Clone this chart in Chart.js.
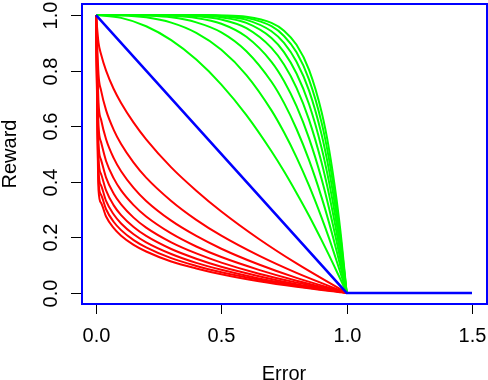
<!DOCTYPE html>
<html>
<head>
<meta charset="utf-8">
<script src="https://cdn.jsdelivr.net/npm/chart.js@4.4.0/dist/chart.umd.min.js"></script>
<style>
  html, body { margin: 0; padding: 0; background: #fff; }
  canvas { display: block; }
</style>
</head>
<body>
<canvas id="chart" width="488" height="380"></canvas>
<script>
// Reward vs error curves
const redX = [0, 0.01, 0.02, 0.04, 0.07, 0.1, 0.15, 0.2, 0.3, 0.4, 0.5, 0.65, 0.8, 1.0];
const red2  = [1, 0.900, 0.859, 0.800, 0.735, 0.684, 0.613, 0.553, 0.452, 0.368, 0.293, 0.194, 0.106, 0];
const red3  = [1, 0.785, 0.729, 0.658, 0.588, 0.536, 0.469, 0.415, 0.331, 0.263, 0.206, 0.134, 0.072, 0];
const red4  = [1, 0.684, 0.624, 0.553, 0.486, 0.438, 0.378, 0.331, 0.260, 0.205, 0.159, 0.102, 0.054, 0];
const red5  = [1, 0.602, 0.543, 0.475, 0.413, 0.369, 0.316, 0.275, 0.214, 0.167, 0.129, 0.083, 0.044, 0];
const red6  = [1, 0.536, 0.479, 0.415, 0.358, 0.319, 0.271, 0.235, 0.182, 0.142, 0.109, 0.069, 0.037, 0];
const red7  = [1, 0.482, 0.428, 0.369, 0.316, 0.280, 0.237, 0.205, 0.158, 0.123, 0.094, 0.060, 0.031, 0];
const red8  = [1, 0.438, 0.387, 0.331, 0.283, 0.250, 0.211, 0.182, 0.140, 0.108, 0.083, 0.052, 0.028, 0];
const red9  = [1, 0.400, 0.353, 0.301, 0.256, 0.226, 0.190, 0.164, 0.125, 0.097, 0.074, 0.047, 0.025, 0];
const red10 = [1, 0.369, 0.324, 0.275, 0.234, 0.206, 0.173, 0.149, 0.113, 0.088, 0.067, 0.042, 0.022, 0];

const greenX = [0, 0.1, 0.2, 0.3, 0.4, 0.5, 0.6, 0.7, 0.75, 0.8, 0.85, 0.9, 0.93, 0.96, 0.98, 1.0];
const green2  = [1, 0.99, 0.96, 0.91, 0.84, 0.75, 0.64, 0.51, 0.438, 0.36, 0.278, 0.19, 0.135, 0.078, 0.04, 0];
const green3  = [1, 0.999, 0.992, 0.973, 0.936, 0.875, 0.784, 0.657, 0.578, 0.488, 0.386, 0.271, 0.196, 0.115, 0.059, 0];
const green4  = [1, 1, 0.998, 0.992, 0.974, 0.938, 0.870, 0.760, 0.684, 0.590, 0.478, 0.344, 0.252, 0.151, 0.078, 0];
const green5  = [1, 1, 1, 0.998, 0.990, 0.969, 0.922, 0.832, 0.763, 0.672, 0.556, 0.410, 0.304, 0.185, 0.096, 0];
const green6  = [1, 1, 1, 0.999, 0.996, 0.984, 0.953, 0.882, 0.822, 0.738, 0.623, 0.469, 0.353, 0.217, 0.114, 0];
const green7  = [1, 1, 1, 1, 0.998, 0.992, 0.972, 0.918, 0.867, 0.790, 0.679, 0.522, 0.398, 0.249, 0.132, 0];
const green8  = [1, 1, 1, 1, 0.999, 0.996, 0.983, 0.942, 0.900, 0.832, 0.728, 0.570, 0.440, 0.279, 0.149, 0];
const green9  = [1, 1, 1, 1, 1, 0.998, 0.990, 0.960, 0.925, 0.866, 0.768, 0.613, 0.480, 0.307, 0.166, 0];
const green10 = [1, 1, 1, 1, 1, 0.999, 0.994, 0.972, 0.944, 0.893, 0.803, 0.651, 0.516, 0.335, 0.183, 0];

// flat part after error = 1
const tailX = [1.0, 1.5];
const tailY = [0, 0];

const blueX = [0, 1.0, 1.5];
const blueY = [1, 0, 0];

const xTicks = [0, 0.5, 1.0, 1.5];
const xTickLabels = ['0.0', '0.5', '1.0', '1.5'];
const yTicks = [0, 0.2, 0.4, 0.6, 0.8, 1.0];
const yTickLabels = ['0.0', '0.2', '0.4', '0.6', '0.8', '1.0'];

const redCurves = [red2, red3, red4, red5, red6, red7, red8, red9, red10];
const greenCurves = [green2, green3, green4, green5, green6, green7, green8, green9, green10];

const toPoints = (xs, ys) => ys.map((y, i) => ({ x: xs[i], y: y }));

function curveDataset(xs, ys, color, order, smooth) {
    return {
        data: toPoints(xs, ys),
        borderColor: color,
        borderWidth: 2,
        pointRadius: 0,
        fill: false,
        showLine: true,
        order: order,
        tension: 0,
        cubicInterpolationMode: smooth ? 'monotone' : 'default'
    };
}

const datasets = [];
datasets.push(curveDataset(blueX, blueY, '#0000ff', 0, false));
datasets[0].borderWidth = 2.5;
datasets.push(curveDataset(tailX, tailY, '#00ff00', 1, false));
greenCurves.forEach(ys => datasets.push(curveDataset(greenX, ys, '#00ff00', 1, true)));
datasets.push(curveDataset(tailX, tailY, '#ff0000', 2, false));
redCurves.forEach(ys => datasets.push(curveDataset(redX, ys, '#ff0000', 2, true)));

// R-style axes, ticks and frame
const FONT = '20px "Liberation Sans", Arial, Helvetica, sans-serif';
const rAxes = {
    id: 'rAxes',
    afterDraw(chart) {
        const { ctx, chartArea: a, scales } = chart;
        const xs = scales.x, ys = scales.y;
        ctx.save();
        ctx.strokeStyle = '#000';
        ctx.fillStyle = '#000';
        ctx.lineWidth = 1;
        ctx.font = FONT;

        // x axis
        ctx.textAlign = 'center';
        ctx.textBaseline = 'alphabetic';
        xTicks.forEach((v, i) => {
            const px = Math.round(xs.getPixelForValue(v)) + 0.5;
            ctx.beginPath();
            ctx.moveTo(px, a.bottom);
            ctx.lineTo(px, a.bottom + 10);
            ctx.stroke();
            ctx.fillText(xTickLabels[i], px, 342);
        });
        ctx.fillText('Error', (a.left + a.right) / 2, 380);

        // y axis
        yTicks.forEach((v, i) => {
            const py = Math.round(ys.getPixelForValue(v)) + 0.5;
            ctx.beginPath();
            ctx.moveTo(a.left - 10, py);
            ctx.lineTo(a.left, py);
            ctx.stroke();
            ctx.save();
            ctx.translate(57, py);
            ctx.rotate(-Math.PI / 2);
            ctx.fillText(yTickLabels[i], 0, 0);
            ctx.restore();
        });
        ctx.save();
        ctx.translate(16, (a.top + a.bottom) / 2);
        ctx.rotate(-Math.PI / 2);
        ctx.fillText('Reward', 0, 0);
        ctx.restore();

        // frame
        ctx.strokeStyle = '#0000ff';
        ctx.lineWidth = 2;
        ctx.strokeRect(a.left + 1, a.top, a.right - a.left - 1, a.bottom - a.top);
        ctx.restore();
    }
};

new Chart(document.getElementById('chart').getContext('2d'), {
    type: 'scatter',
    data: { datasets: datasets },
    options: {
        responsive: false,
        animation: false,
        events: [],
        layout: { padding: { left: 81, right: 1, top: 4, bottom: 76 } },
        plugins: {
            legend: { display: false },
            tooltip: { enabled: false }
        },
        scales: {
            x: { type: 'linear', min: -0.06, max: 1.56, display: false },
            y: { type: 'linear', min: -0.04, max: 1.04, display: false }
        }
    },
    plugins: [rAxes]
});
</script>
</body>
</html>
